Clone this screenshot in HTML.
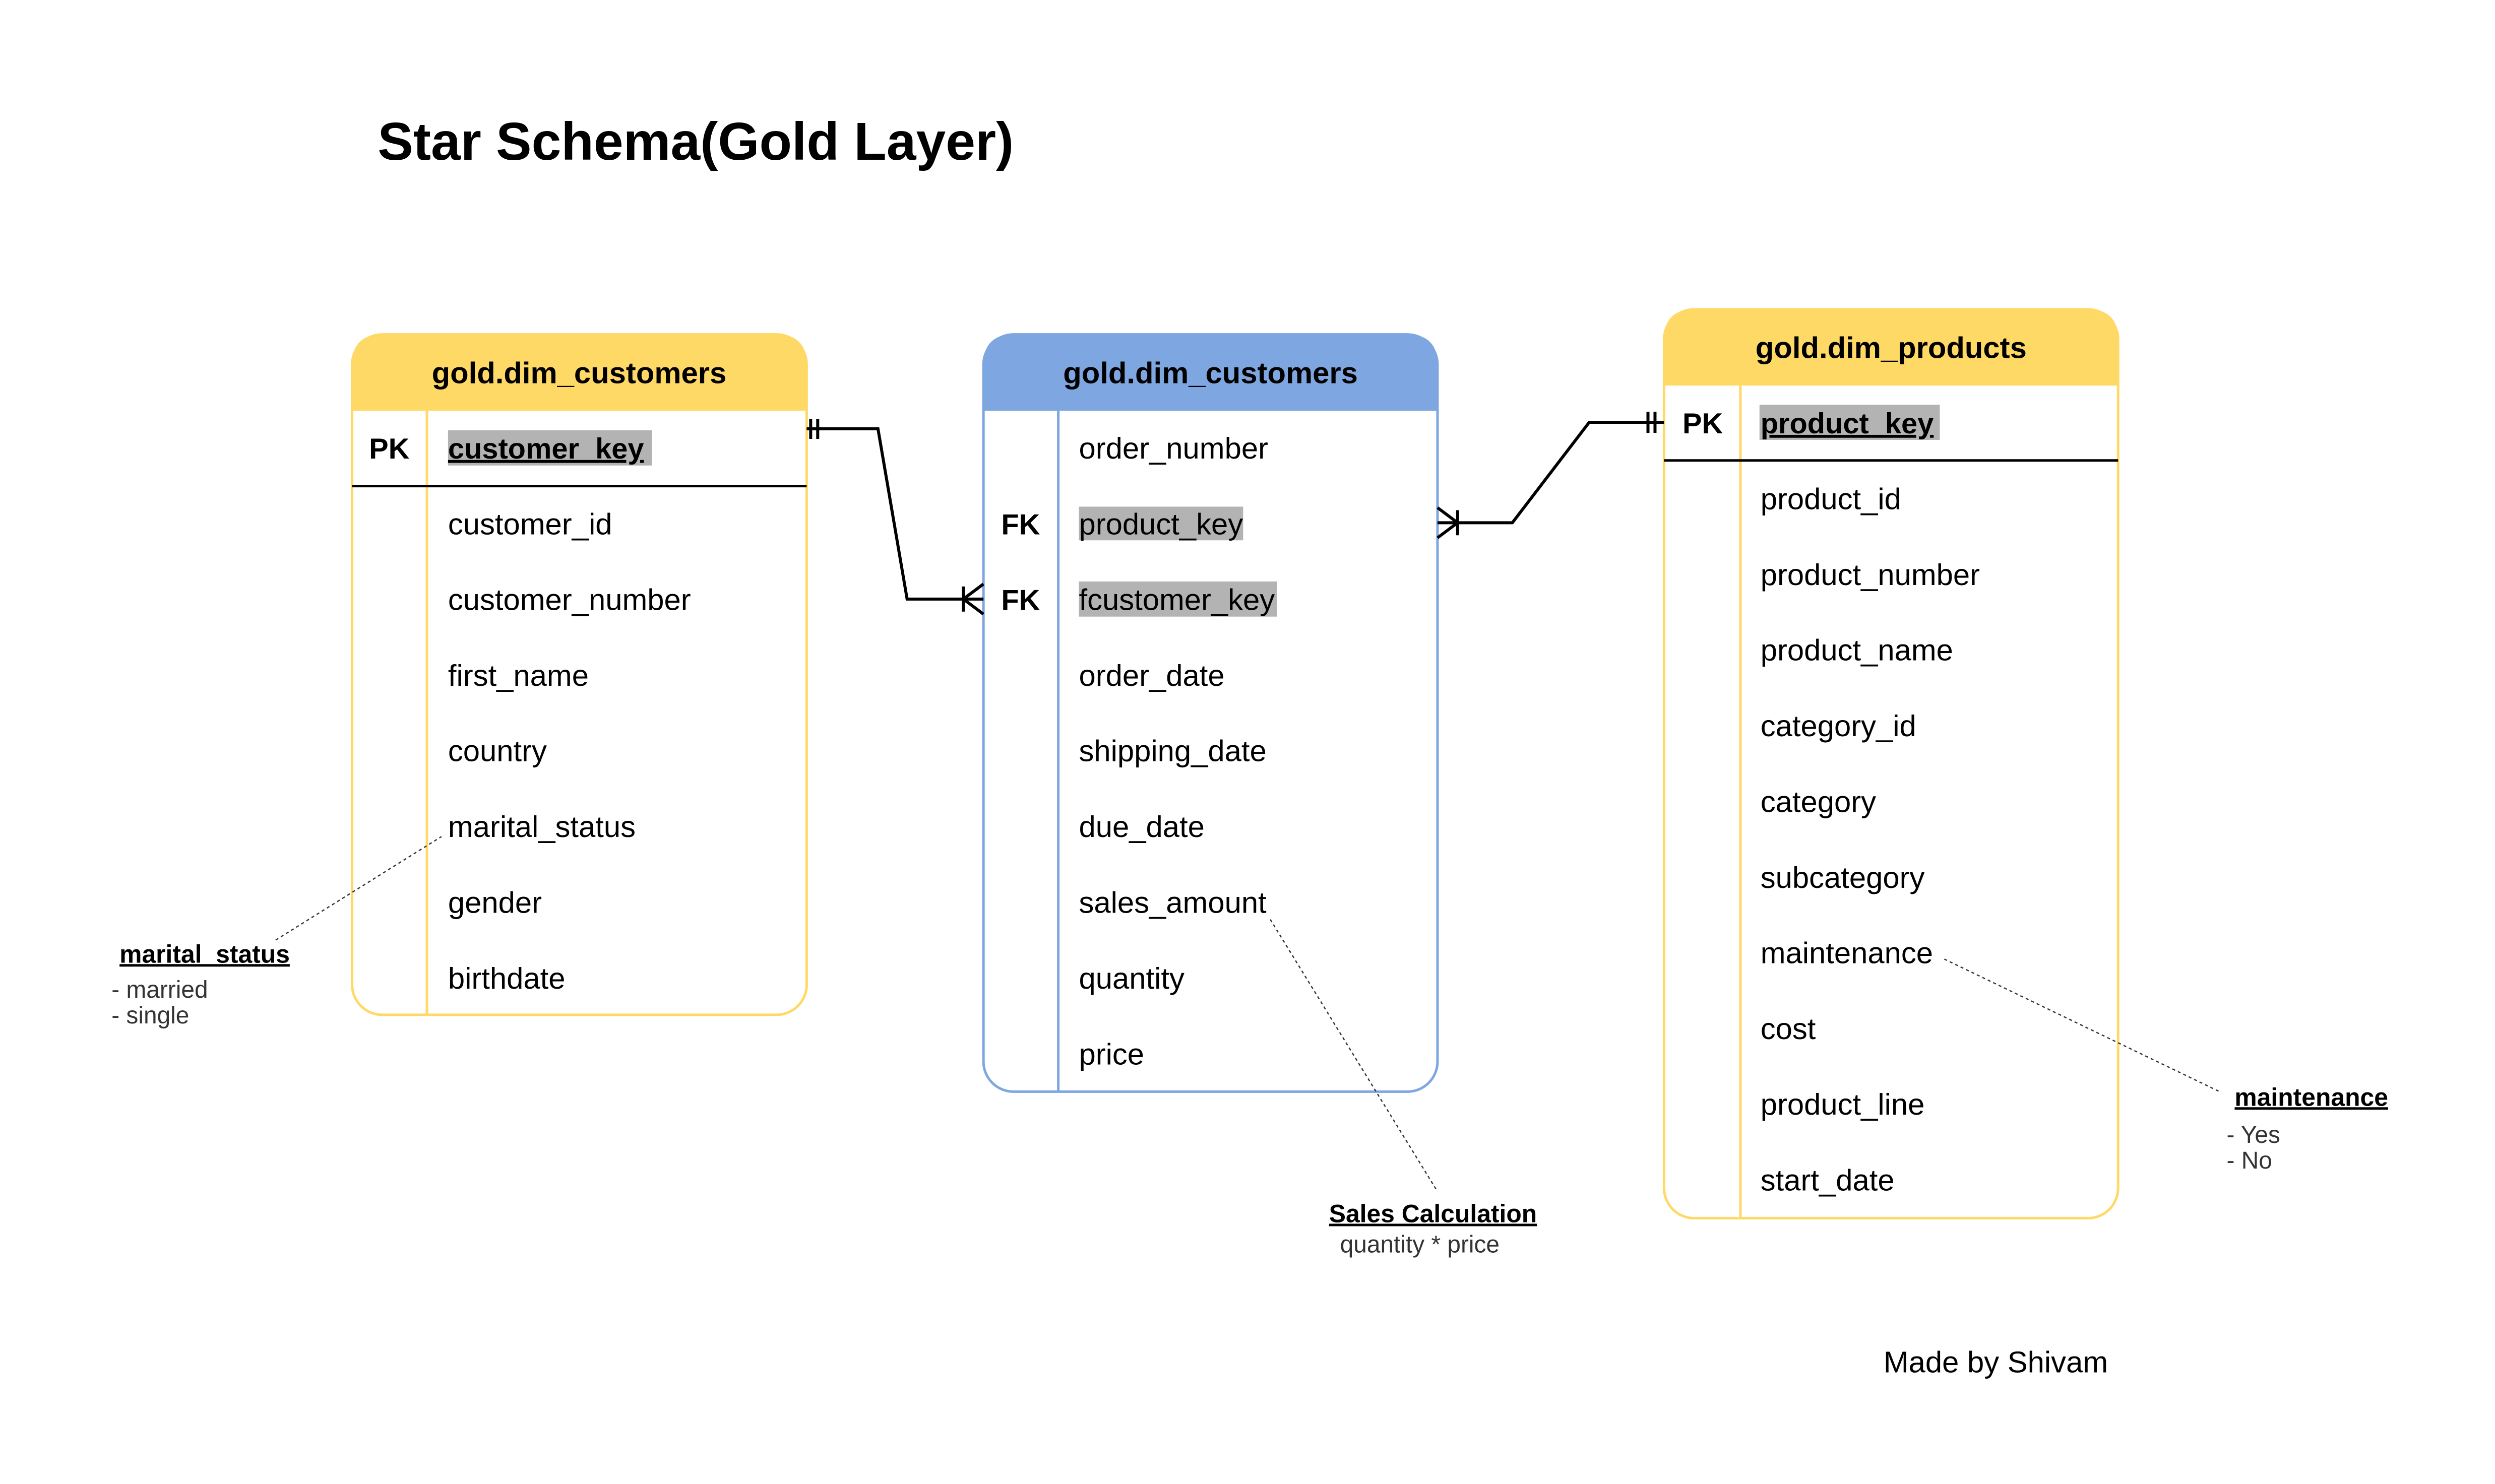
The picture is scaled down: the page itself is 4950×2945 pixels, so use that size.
<!DOCTYPE html>
<html><head><meta charset="utf-8"><style>
html,body{margin:0;padding:0;background:#fff;}
svg{display:block;}
text{font-family:"Liberation Sans",Arial,sans-serif;}
</style></head><body>
<svg width="4950" height="2945" viewBox="0 0 4950 2945" xmlns="http://www.w3.org/2000/svg">
<rect width="4950" height="2945" fill="#fff"/>
<g transform="scale(0.9965)">
<text x="752" y="318" font-size="106" font-weight="bold" fill="#000">Star Schema(Gold Layer)</text>

<!-- Table 1 -->
<rect x="701" y="666" width="905" height="1355" rx="60" ry="60" fill="#fff" stroke="#FFD966" stroke-width="5"/>
<path d="M701,818 L701,726 Q701,666 761,666 L1546,666 Q1606,666 1606,726 L1606,818 Z" fill="#FFD966"/>
<line x1="850" y1="818" x2="850" y2="2021" stroke="#FFD966" stroke-width="5"/>
<line x1="701" y1="968" x2="1606" y2="968" stroke="#000" stroke-width="5"/>
<text x="1153" y="763" font-size="60" font-weight="bold" text-anchor="middle">gold.dim_customers</text>
<text x="775" y="913" font-size="58" font-weight="bold" text-anchor="middle">PK</text>
<rect x="892" y="857" width="406" height="70" fill="#B3B3B3"/>
<text x="892" y="913" font-size="58" font-weight="bold" text-decoration="underline">customer_key</text>
<g font-size="60">
<text x="892" y="1064">customer_id</text>
<text x="892" y="1215">customer_number</text>
<text x="892" y="1366">first_name</text>
<text x="892" y="1516">country</text>
<text x="892" y="1667">marital_status</text>
<text x="892" y="1818">gender</text>
<text x="892" y="1969">birthdate</text>
</g>

<!-- Table 2 -->
<rect x="1958" y="666" width="904" height="1508" rx="60" ry="60" fill="#fff" stroke="#7EA6E0" stroke-width="5"/>
<path d="M1958,818 L1958,726 Q1958,666 2018,666 L2802,666 Q2862,666 2862,726 L2862,818 Z" fill="#7EA6E0"/>
<line x1="2107" y1="818" x2="2107" y2="2174" stroke="#7EA6E0" stroke-width="5"/>
<text x="2410" y="763" font-size="60" font-weight="bold" text-anchor="middle">gold.dim_customers</text>
<rect x="2148" y="1009" width="327" height="67" fill="#B3B3B3"/>
<rect x="2148" y="1158" width="394" height="70" fill="#B3B3B3"/>
<text x="2032" y="1064" font-size="58" font-weight="bold" text-anchor="middle">FK</text>
<text x="2032" y="1215" font-size="58" font-weight="bold" text-anchor="middle">FK</text>
<g font-size="60">
<text x="2148" y="913">order_number</text>
<text x="2148" y="1064">product_key</text>
<text x="2148" y="1215">fcustomer_key</text>
<text x="2148" y="1366">order_date</text>
<text x="2148" y="1516">shipping_date</text>
<text x="2148" y="1667">due_date</text>
<text x="2148" y="1818">sales_amount</text>
<text x="2148" y="1969">quantity</text>
<text x="2148" y="2120">price</text>
</g>

<!-- Table 3 -->
<rect x="3313" y="616" width="904" height="1810" rx="60" ry="60" fill="#fff" stroke="#FFD966" stroke-width="5"/>
<path d="M3313,768 L3313,676 Q3313,616 3373,616 L4157,616 Q4217,616 4217,676 L4217,768 Z" fill="#FFD966"/>
<line x1="3465" y1="768" x2="3465" y2="2426" stroke="#FFD966" stroke-width="5"/>
<line x1="3313" y1="917" x2="4217" y2="917" stroke="#000" stroke-width="5"/>
<text x="3765" y="713" font-size="60" font-weight="bold" text-anchor="middle">gold.dim_products</text>
<text x="3390" y="863" font-size="58" font-weight="bold" text-anchor="middle">PK</text>
<rect x="3503" y="806" width="359" height="70" fill="#B3B3B3"/>
<text x="3505" y="863" font-size="58" font-weight="bold" text-decoration="underline">product_key</text>
<g font-size="60">
<text x="3505" y="1014">product_id</text>
<text x="3505" y="1165">product_number</text>
<text x="3505" y="1315">product_name</text>
<text x="3505" y="1466">category_id</text>
<text x="3505" y="1617">category</text>
<text x="3505" y="1768">subcategory</text>
<text x="3505" y="1918">maintenance</text>
<text x="3505" y="2069">cost</text>
<text x="3505" y="2220">product_line</text>
<text x="3505" y="2371">start_date</text>
</g>

<!-- Connectors -->
<g stroke="#000" stroke-width="6" fill="none">
<polyline points="1606,854 1748,854 1806,1193 1958,1193"/>
<line x1="1614" y1="834" x2="1614" y2="874"/>
<line x1="1628" y1="834" x2="1628" y2="874"/>
<line x1="1918" y1="1193" x2="1958" y2="1163"/>
<line x1="1918" y1="1193" x2="1958" y2="1223"/>
<line x1="1918" y1="1168" x2="1918" y2="1218"/>
<polyline points="2862,1041 3011,1041 3164,841 3313,841"/>
<line x1="3281" y1="820" x2="3281" y2="862"/>
<line x1="3295" y1="820" x2="3295" y2="862"/>
<line x1="2902" y1="1041" x2="2862" y2="1011"/>
<line x1="2902" y1="1041" x2="2862" y2="1071"/>
<line x1="2902" y1="1016" x2="2902" y2="1066"/>
</g>

<!-- Dotted annotation lines -->
<g stroke="#333" stroke-width="2.5" stroke-dasharray="6,6" fill="none">
<line x1="549" y1="1872" x2="879" y2="1666"/>
<line x1="2529" y1="1831" x2="2862" y2="2373"/>
<line x1="3871" y1="1910" x2="4417" y2="2173"/>
</g>

<!-- Annotations -->
<text x="238" y="1917" font-size="50" font-weight="bold" text-decoration="underline">marital_status</text>
<text x="222" y="1987" font-size="48" fill="#333">- married</text>
<text x="222" y="2038" font-size="48" fill="#333">- single</text>
<text x="2646" y="2434" font-size="50" font-weight="bold" text-decoration="underline">Sales Calculation</text>
<text x="2668" y="2494" font-size="48" fill="#333">quantity * price</text>
<text x="4449" y="2202" font-size="50" font-weight="bold" text-decoration="underline">maintenance</text>
<text x="4433" y="2276" font-size="48" fill="#333">- Yes</text>
<text x="4433" y="2327" font-size="48" fill="#333">- No</text>
<text x="3750" y="2733" font-size="60">Made by Shivam</text>
</g>
</svg>
</body></html>
